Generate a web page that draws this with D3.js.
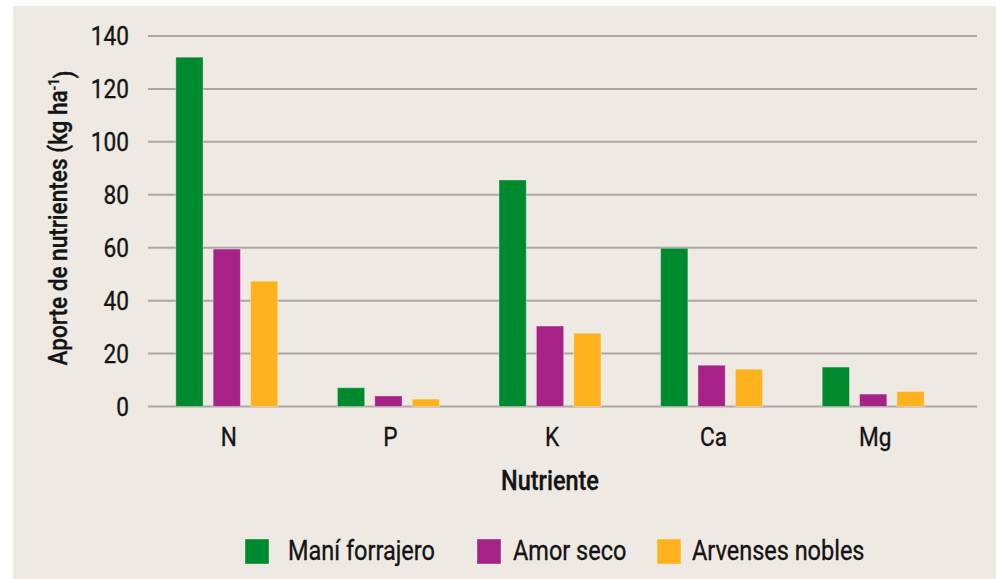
<!DOCTYPE html>
<meta charset="utf-8">
<head>
<script src="https://d3js.org/d3.v7.min.js"></script>
<style>
  body { margin: 0; background: #fff; }
  text { font-family: Roboto, "Open Sans", sans-serif; fill: #141414; stroke: #141414; stroke-width: 0.35px; }
</style>
</head>
<body>
<div id="chart"></div>
<script>
  var width = 996, height = 579;

  var categories = ["N", "P", "K", "Ca", "Mg"];
  var series = ["Maní forrajero", "Amor seco", "Arvenses nobles"];
  var maniForrajero = [132, 7.1, 85.6, 59.8, 14.9];
  var amorSeco = [59.5, 4.0, 30.4, 15.6, 4.7];
  var arvensesNobles = [47.4, 2.8, 27.7, 14.1, 5.7];
  var yTicks = [0, 20, 40, 60, 80, 100, 120, 140];
  var colors = ["#008A30", "#A72287", "#FDB21E"];

  var seriesValues = [maniForrajero, amorSeco, arvensesNobles];
  var data = categories.map(function(c, i) {
    return { cat: c, vals: series.map(function(s, j) { return { name: s, value: seriesValues[j][i], idx: j }; }) };
  });

  // horizontal squeeze to mimic the condensed face of the original
  var cond = 0.87;

  var svg = d3.select("#chart").append("svg")
    .attr("width", width)
    .attr("height", height);

  svg.append("rect")
    .attr("x", 13).attr("y", 6)
    .attr("width", width - 13).attr("height", height - 6)
    .attr("fill", "#EEE9E3");

  var y = d3.scaleLinear().domain([0, 140]).range([406.5, 36]);

  var x0 = d3.scaleBand().domain(categories).range([146, 954]);
  var groupW = 102;
  var x1 = d3.scaleBand().domain(series)
    .range([x0.bandwidth() / 2 - groupW / 2, x0.bandwidth() / 2 + groupW / 2])
    .paddingInner(0.27);

  // gridlines
  svg.append("g").selectAll("line")
    .data(yTicks)
    .enter().append("line")
    .attr("x1", 148).attr("x2", 977)
    .attr("y1", function(d) { return y(d); })
    .attr("y2", function(d) { return y(d); })
    .attr("stroke", "#ABA7A3")
    .attr("stroke-width", 2);

  // y tick labels
  svg.append("g").selectAll("text")
    .data(yTicks)
    .enter().append("text")
    .attr("transform", function(d) { return "translate(129," + y(d) + ") scale(" + cond + ",1)"; })
    .attr("dy", "0.36em")
    .attr("text-anchor", "end")
    .style("font-size", "26px")
    .text(function(d) { return d; });

  // bars
  var groups = svg.append("g").selectAll("g")
    .data(data)
    .enter().append("g")
    .attr("transform", function(d) { return "translate(" + x0(d.cat) + ",0)"; });

  groups.selectAll("rect")
    .data(function(d) { return d.vals; })
    .enter().append("rect")
    .attr("x", function(d) { return x1(d.name); })
    .attr("width", x1.bandwidth())
    .attr("y", function(d) { return y(d.value); })
    .attr("height", function(d) { return y(0) - y(d.value); })
    .attr("fill", function(d) { return colors[d.idx]; })
    .attr("stroke", "rgba(255,255,255,0.35)")
    .attr("stroke-width", 1);

  // category labels
  svg.append("g").selectAll("text")
    .data(categories)
    .enter().append("text")
    .attr("transform", function(d) { return "translate(" + (x0(d) + x0.bandwidth() / 2 + 2) + ",446) scale(" + cond + ",1)"; })
    .attr("text-anchor", "middle")
    .style("font-size", "26px")
    .text(function(d) { return d; });

  // axis titles
  svg.append("text")
    .attr("transform", "translate(550,490) scale(" + cond + ",1)")
    .attr("text-anchor", "middle")
    .style("font-size", "27px")
    .style("font-weight", 500)
    .text("Nutriente");

  var yt = svg.append("text")
    .attr("transform", "translate(67,218) rotate(-90) scale(" + cond + ",1)")
    .attr("text-anchor", "middle")
    .style("font-size", "26px")
    .style("font-weight", 500);
  yt.append("tspan").text("Aporte de nutrientes (kg ha");
  yt.append("tspan").attr("dy", "-0.55em").style("font-size", "15px").text("-1");
  yt.append("tspan").attr("dy", "0.55em").text(")");

  // legend
  var legendX = [245, 477, 657];
  var legendTextX = [288, 513, 692];
  var legend = svg.append("g").selectAll("g")
    .data(series)
    .enter().append("g");

  legend.append("rect")
    .attr("x", function(d, i) { return legendX[i]; })
    .attr("y", 539)
    .attr("width", 24).attr("height", 25)
    .attr("fill", function(d, i) { return colors[i]; })
    .attr("stroke", "rgba(255,255,255,0.35)")
    .attr("stroke-width", 1);

  legend.append("text")
    .attr("transform", function(d, i) { return "translate(" + legendTextX[i] + ",560) scale(" + cond + ",1)"; })
    .style("font-size", "27px")
    .text(function(d) { return d; });
</script>
</body>
